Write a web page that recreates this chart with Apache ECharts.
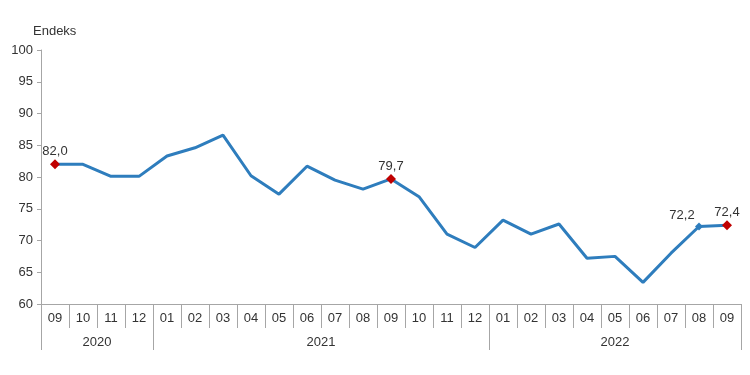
<!DOCTYPE html>
<html>
<head>
<meta charset="utf-8">
<script src="https://cdn.jsdelivr.net/npm/echarts@6/dist/echarts.min.js"></script>
<style>html,body{margin:0;padding:0;background:#fff}#c{width:750px;height:375px}</style>
</head>
<body>
<div id="c"></div>
<script>
var months = ['09','10','11','12','01','02','03','04','05','06','07','08','09','10','11','12','01','02','03','04','05','06','07','08','09'];
var values = [82.0,82.0,80.1,80.1,83.3,84.6,86.6,80.2,77.3,81.7,79.5,78.1,79.7,76.9,71.0,68.9,73.2,71.0,72.6,67.2,67.5,63.4,68.0,72.2,72.4];
var years = ['2020','2021','2022'];
var yearMonthCounts = [4,12,9];
var redMarks = [0,12,24];
var blueMarks = [23];
var yTicks = {min:60, max:100, interval:5};

// year axis: half-month points (boundaryGap false)
var nHalf = months.length * 2;
var yearCats = [];
for (var i = 0; i <= nHalf; i++) yearCats.push('');
var yearBoundaries = {0:true};
var pos = 0;
years.forEach(function(y, k){
  var start = pos; pos += yearMonthCounts[k];
  yearCats[start + pos] = y; // center in half-month units = (start+end)
  yearBoundaries[pos*2] = true;
});

var txt = '#333';
var axisCol = '#a6a6a6';
var fmt = function(v){ return v.toFixed(1).replace('.', ','); };

var data = values.map(function(v, i){
  var o = {value: v};
  if (redMarks.indexOf(i) >= 0) {
    o.symbol = 'diamond'; o.symbolSize = 10;
    o.itemStyle = {color:'#c00000'};
    o.label = {show:true, position:'top', distance:1, formatter: fmt(v), color:txt, fontSize:13, fontFamily:'Liberation Sans'};
  } else if (blueMarks.indexOf(i) >= 0) {
    o.symbol = 'diamond'; o.symbolSize = 8;
    o.itemStyle = {color:'#2e7dbd'};
    o.label = {show:true, position:'top', distance:1, offset:[-17,0], formatter: fmt(v), color:txt, fontSize:13, fontFamily:'Liberation Sans'};
  }
  return o;
});

var chart = echarts.init(document.getElementById('c'));
chart.setOption({
  animation:false,
  title:{text:'Endeks', left:33, top:25, padding:0, textStyle:{fontSize:13, fontWeight:'normal', color:txt, fontFamily:'Liberation Sans'}},
  grid:{left:41, right:9, top:50, bottom:71},
  xAxis:[{
    type:'category', data:months, boundaryGap:true, position:'bottom',
    axisLine:{lineStyle:{color:axisCol, width:1}},
    axisTick:{show:true, interval:0, length:24, lineStyle:{color:axisCol}},
    axisLabel:{interval:0, margin:8, color:txt, fontSize:13, fontFamily:'Liberation Sans'},
    splitLine:{show:false}
  },{
    type:'category', data:yearCats, boundaryGap:false, position:'bottom',
    axisLine:{show:false},
    axisTick:{show:true, length:46, lineStyle:{color:axisCol}, interval:function(idx){ return !!yearBoundaries[idx]; }},
    axisLabel:{interval:0, margin:32, color:txt, fontSize:13, fontFamily:'Liberation Sans'},
    splitLine:{show:false}
  }],
  yAxis:{
    type:'value', min:yTicks.min, max:yTicks.max, interval:yTicks.interval,
    axisLine:{show:true, lineStyle:{color:axisCol}},
    axisTick:{show:true, length:4, lineStyle:{color:axisCol}},
    axisLabel:{margin:8, color:txt, fontSize:13, fontFamily:'Liberation Sans'},
    splitLine:{show:false}
  },
  series:[{
    type:'line', xAxisIndex:0, data:data,
    symbol:'diamond', symbolSize:0, showAllSymbol:true,
    lineStyle:{color:'#2e7dbd', width:3},
    itemStyle:{color:'#2e7dbd'},
    emphasis:{disabled:true}
  }]
});
</script>
</body>
</html>
